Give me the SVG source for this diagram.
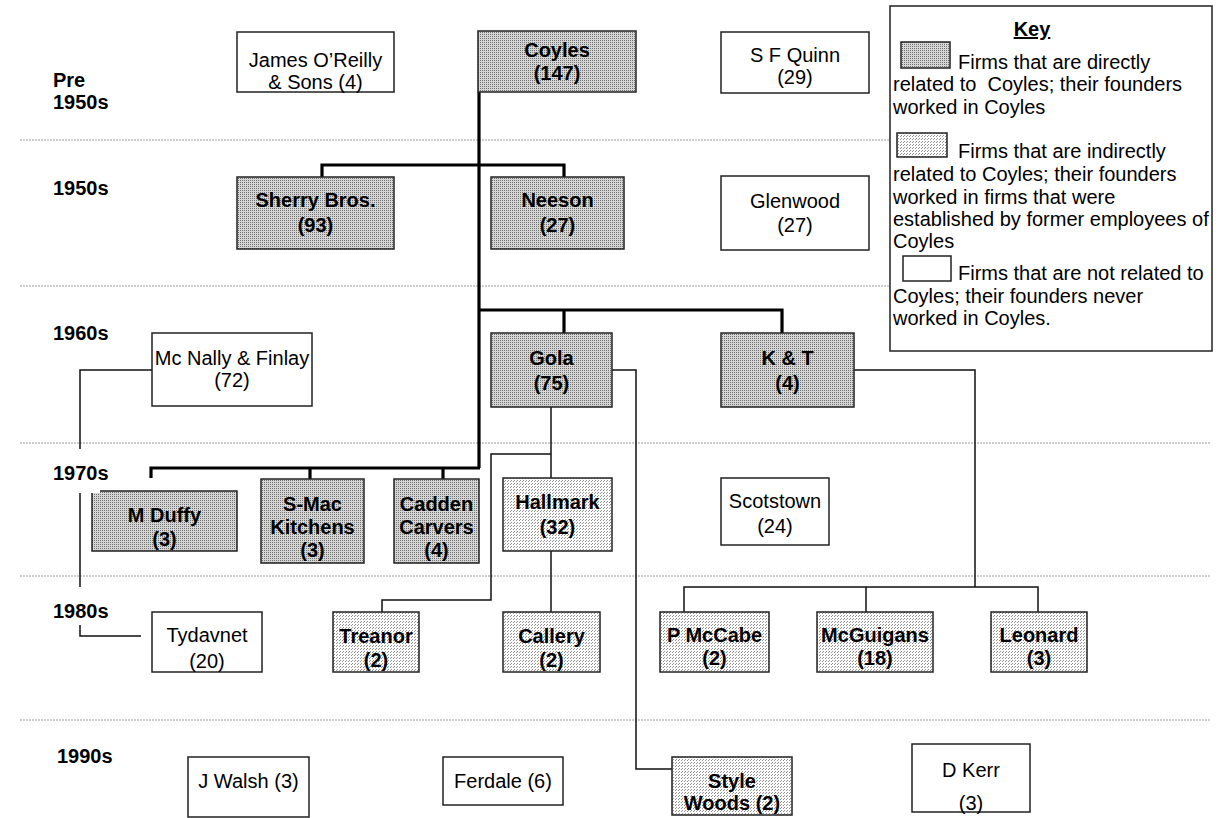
<svg xmlns="http://www.w3.org/2000/svg" width="1219" height="818" viewBox="0 0 1219 818">
<style>
text{font-family:"Liberation Sans",Arial,sans-serif;font-size:20px;fill:#000}
.b{font-weight:bold}
.m{text-anchor:middle}
.yr{font-weight:bold}
.box{stroke:#222;stroke-width:1.5}
.dir{fill:url(#dots)}
.ind{fill:url(#hatch)}
.non{fill:#fff}
.grid{stroke:#9a9a9a;stroke-width:1;stroke-dasharray:2 1;fill:none}
.thick{stroke:#000;stroke-width:3.2;fill:none;stroke-linejoin:miter}
.thin{stroke:#111;stroke-width:1.5;fill:none}
.lbg{fill:#fff;stroke:none}
</style>
<defs>
<pattern id="dots" width="2" height="2" patternUnits="userSpaceOnUse"><rect width="2" height="2" fill="#d6d6d6"/><rect width="1" height="1" fill="#707070"/></pattern>
<pattern id="hatch" width="6" height="3" patternUnits="userSpaceOnUse"><rect width="6" height="3" fill="#fff"/><rect x="1" y="0" width="1" height="1" fill="#909090"/><rect x="4" y="0" width="1" height="1" fill="#909090"/><rect x="0" y="1" width="1" height="1" fill="#909090"/><rect x="3" y="1" width="1" height="1" fill="#909090"/></pattern>
</defs>
<rect width="1219" height="818" fill="#fff"/>
<g id="gridlines">
<line class="grid" x1="20" y1="140" x2="1210" y2="140"/>
<line class="grid" x1="20" y1="286" x2="1210" y2="286"/>
<line class="grid" x1="20" y1="443" x2="1210" y2="443"/>
<line class="grid" x1="20" y1="576" x2="1210" y2="576"/>
<line class="grid" x1="20" y1="720" x2="1210" y2="720"/>
</g>
<g id="connectors">
<path class="thick" d="M479,92 V468"/>
<path class="thick" d="M322,177 V165 H564 V177"/>
<path class="thick" d="M479,310 H782 V333"/>
<path class="thick" d="M564,310 V333"/>
<path class="thick" d="M151,478 V468 H480"/>
<path class="thick" d="M310,468 V479"/>
<path class="thick" d="M443,468 V479"/>
<path class="thin" d="M152,370 H80 V636 H141"/>
<path class="thin" d="M612,370 H636 V769 H672"/>
<path class="thin" d="M551,407 V478"/>
<path class="thin" d="M551,454 H491 V600 H382 V612"/>
<path class="thin" d="M551,551 V612"/>
<path class="thin" d="M854,370 H975 V587"/>
<path class="thin" d="M684,612 V587 H1038 V612"/>
<path class="thin" d="M866,587 V612"/>
</g>
<g id="oreilly"><rect class="box non" x="237" y="32" width="157" height="60"/><text class="m" x="315.5" y="67">James O’Reilly</text><text class="m" x="315.5" y="89">&amp; Sons (4)</text></g>
<g id="coyles"><rect class="box dir" x="478" y="31" width="158" height="61"/><text class="b m" x="557" y="57">Coyles</text><text class="b m" x="557" y="80">(147)</text></g>
<g id="sfquinn"><rect class="box non" x="721" y="32" width="148" height="61"/><text class="m" x="795" y="62">S F Quinn</text><text class="m" x="795" y="84">(29)</text></g>
<g id="sherry"><rect class="box dir" x="237" y="177" width="157" height="72"/><text class="b m" x="315.5" y="207">Sherry Bros.</text><text class="b m" x="315.5" y="232">(93)</text></g>
<g id="neeson"><rect class="box dir" x="491" y="177" width="133" height="72"/><text class="b m" x="557.5" y="207">Neeson</text><text class="b m" x="557.5" y="232">(27)</text></g>
<g id="glenwood"><rect class="box non" x="721" y="176" width="148" height="74"/><text class="m" x="795" y="208">Glenwood</text><text class="m" x="795" y="232">(27)</text></g>
<g id="mcnally"><rect class="box non" x="152" y="333" width="160" height="73"/><text class="m" x="232" y="365">Mc Nally &amp; Finlay</text><text class="m" x="232" y="387">(72)</text></g>
<g id="gola"><rect class="box dir" x="491" y="333" width="121" height="74"/><text class="b m" x="551.5" y="365">Gola</text><text class="b m" x="551.5" y="390">(75)</text></g>
<g id="kt"><rect class="box dir" x="721" y="333" width="133" height="74"/><text class="b m" x="787.5" y="365">K &amp; T</text><text class="b m" x="787.5" y="390">(4)</text></g>
<g id="mduffy"><rect class="box dir" x="92" y="491" width="145" height="60"/><text class="b m" x="164.5" y="522">M Duffy</text><text class="b m" x="164.5" y="546">(3)</text></g>
<g id="smac"><rect class="box dir" x="261" y="479" width="103" height="84"/><text class="b m" x="312.5" y="511">S-Mac</text><text class="b m" x="312.5" y="534">Kitchens</text><text class="b m" x="312.5" y="557">(3)</text></g>
<g id="cadden"><rect class="box dir" x="394" y="479" width="85" height="84"/><text class="b m" x="436.5" y="511">Cadden</text><text class="b m" x="436.5" y="534">Carvers</text><text class="b m" x="436.5" y="557">(4)</text></g>
<g id="hallmark"><rect class="box ind" x="503" y="478" width="109" height="73"/><text class="b m" x="557.5" y="509">Hallmark</text><text class="b m" x="557.5" y="534">(32)</text></g>
<g id="scotstown"><rect class="box non" x="721" y="478" width="108" height="67"/><text class="m" x="775" y="508">Scotstown</text><text class="m" x="775" y="533">(24)</text></g>
<g id="tydavnet"><rect class="box non" x="152" y="612" width="110" height="60"/><text class="m" x="207" y="642">Tydavnet</text><text class="m" x="207" y="668">(20)</text></g>
<g id="treanor"><rect class="box ind" x="333" y="612" width="86" height="60"/><text class="b m" x="376" y="643">Treanor</text><text class="b m" x="376" y="667">(2)</text></g>
<g id="callery"><rect class="box ind" x="503" y="612" width="97" height="60"/><text class="b m" x="551.5" y="643">Callery</text><text class="b m" x="551.5" y="667">(2)</text></g>
<g id="pmccabe"><rect class="box ind" x="660" y="612" width="109" height="60"/><text class="b m" x="714.5" y="642">P McCabe</text><text class="b m" x="714.5" y="665">(2)</text></g>
<g id="mcguigans"><rect class="box ind" x="817" y="612" width="116" height="60"/><text class="b m" x="875" y="642">McGuigans</text><text class="b m" x="875" y="665">(18)</text></g>
<g id="leonard"><rect class="box ind" x="991" y="612" width="96" height="60"/><text class="b m" x="1039" y="642">Leonard</text><text class="b m" x="1039" y="665">(3)</text></g>
<g id="jwalsh"><rect class="box non" x="188" y="757" width="121" height="60"/><text class="m" x="248.5" y="788">J Walsh (3)</text></g>
<g id="ferdale"><rect class="box non" x="443" y="757" width="120" height="48"/><text class="m" x="503" y="788">Ferdale (6)</text></g>
<g id="stylewoods"><rect class="box ind" x="672" y="757" width="120" height="58"/><text class="b m" x="732" y="788">Style</text><text class="b m" x="732" y="810">Woods (2)</text></g>
<g id="dkerr"><rect class="box non" x="912" y="744" width="118" height="68"/><text class="m" x="971" y="777">D Kerr</text><text class="m" x="971" y="810">(3)</text></g>
<g id="years">
<text class="yr" x="53" y="87">Pre</text><text class="yr" x="53" y="109">1950s</text>
<text class="yr" x="53" y="195">1950s</text>
<text class="yr" x="53" y="340">1960s</text>
<rect class="lbg" x="48" y="449" width="52" height="44"/>
<text class="yr" x="53" y="480">1970s</text>
<rect class="lbg" x="48" y="587" width="64" height="38"/>
<text class="yr" x="53" y="618">1980s</text>
<text class="yr" x="57" y="763">1990s</text>
</g>
<g id="key">
<rect x="890" y="6" width="322" height="345" fill="#fff" stroke="#222" stroke-width="1.5"/>
<text class="b m" x="1032" y="36" text-decoration="underline">Key</text>
<rect class="box dir" x="901" y="42" width="49" height="26"/>
<text x="958" y="69">Firms that are directly</text>
<text x="893" y="91">related to&#160; Coyles; their founders</text>
<text x="893" y="114">worked in Coyles</text>
<rect class="box ind" x="897" y="133" width="50" height="24"/>
<text x="958" y="158">Firms that are indirectly</text>
<text x="893" y="181">related to Coyles; their founders</text>
<text x="893" y="204">worked in firms that were</text>
<text x="893" y="226">established by former employees of</text>
<text x="893" y="248">Coyles</text>
<rect class="box non" x="903" y="256" width="48" height="25"/>
<text x="958" y="280">Firms that are not related to</text>
<text x="893" y="303">Coyles; their founders never</text>
<text x="893" y="325">worked in Coyles.</text>
</g>
</svg>
